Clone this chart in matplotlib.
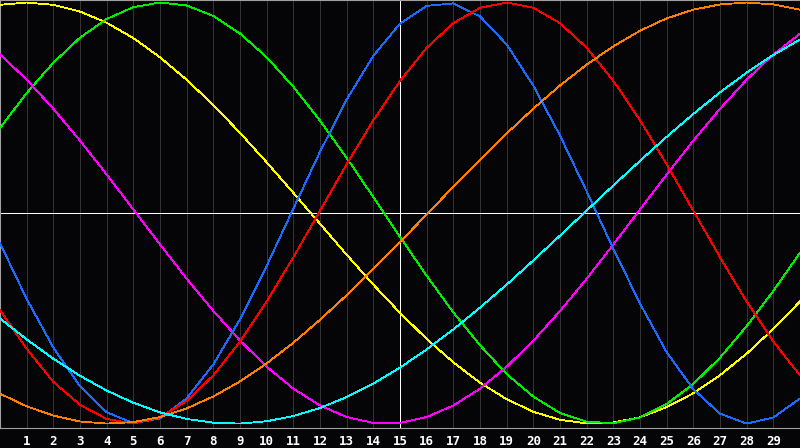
import numpy as np
import matplotlib
matplotlib.use("Agg")
import matplotlib.pyplot as plt

# x positions 0..30
x_vals = list(range(31))

yellow = [0.989, 1.0, 0.989, 0.957, 0.904, 0.831, 0.740, 0.633, 0.513, 0.381, 0.241,
          0.096, -0.051, -0.198, -0.340, -0.474, -0.598, -0.709, -0.806, -0.884, -0.944,
          -0.982, -0.999, -0.995, -0.970, -0.922, -0.856, -0.770, -0.668, -0.550, -0.420]
green = [0.404, 0.570, 0.714, 0.833, 0.922, 0.978, 1.000, 0.986, 0.936, 0.853, 0.740,
         0.600, 0.439, 0.262, 0.076, -0.113, -0.298, -0.472, -0.628, -0.765, -0.872,
         -0.950, -0.991, -0.998, -0.971, -0.907, -0.812, -0.687, -0.537, -0.370, -0.189]
magenta = [0.753, 0.634, 0.495, 0.344, 0.183, 0.017, -0.149, -0.312, -0.465, -0.606, -0.730,
           -0.834, -0.914, -0.969, -0.997, -0.997, -0.969, -0.914, -0.834, -0.730, -0.606,
           -0.465, -0.312, -0.149, 0.017, 0.183, 0.344, 0.495, 0.634, 0.753, 0.852]
blue = [-0.143, -0.408, -0.639, -0.823, -0.946, -0.998, -0.976, -0.880, -0.719, -0.505, -0.251,
        0.021, 0.291, 0.539, 0.747, 0.900, 0.984, 0.996, 0.934, 0.801, 0.605,
        0.368, 0.103, -0.170, -0.430, -0.661, -0.837, -0.953, -1.000, -0.971, -0.881]
red = [-0.461, -0.645, -0.802, -0.911, -0.978, -1.000, -0.970, -0.893, -0.771, -0.611, -0.421,
       -0.210, 0.011, 0.232, 0.441, 0.628, 0.785, 0.902, 0.975, 1.000, 0.975,
       0.902, 0.785, 0.628, 0.441, 0.232, 0.011, -0.210, -0.421, -0.611, -0.771]
orange = [-0.858, -0.918, -0.962, -0.990, -1.000, -0.993, -0.969, -0.928, -0.871, -0.800, -0.714,
          -0.616, -0.507, -0.390, -0.266, -0.137, -0.007, 0.125, 0.253, 0.378, 0.496,
          0.606, 0.705, 0.792, 0.866, 0.925, 0.966, 0.991, 1.000, 0.991, 0.966]
cyan = [-0.501, -0.600, -0.692, -0.773, -0.843, -0.901, -0.947, -0.978, -0.996, -1.000, -0.989,
        -0.964, -0.926, -0.874, -0.810, -0.734, -0.648, -0.553, -0.449, -0.340, -0.225,
        -0.107, 0.012, 0.131, 0.248, 0.362, 0.471, 0.573, 0.667, 0.751, 0.824]

tick_pos = list(range(1, 30))
tick_labels = [str(t) for t in tick_pos]

series = [
    (yellow, "#ffff00"),
    (green, "#00ee00"),
    (magenta, "#ff00ff"),
    (blue, "#1a6cff"),
    (red, "#ff0000"),
    (orange, "#ff8000"),
    (cyan, "#00ffff"),
]

fig = plt.figure(figsize=(8, 4.48), dpi=100, facecolor="#050508")
ax = fig.add_axes([0.0, 20 / 448, 1.0, 428 / 448])
ax.set_facecolor("#050508")

for t in tick_pos:
    ax.axvline(t, color="#343434", lw=0.6, antialiased=False, zorder=1)
ax.axhline(0, color="white", lw=0.7, antialiased=False, zorder=2)
ax.axvline(15, color="white", lw=0.7, antialiased=False, zorder=2)

for vals, col in series:
    ax.plot(x_vals, vals, color=col, lw=0.6, antialiased=False, zorder=3)

ax.set_xlim(0, 30)
ax.set_ylim(-1.021, 1.012)
ax.set_yticks([])
ax.set_xticks(tick_pos)
ax.set_xticklabels(tick_labels, color="white", fontsize=9, fontweight="bold",
                   family="DejaVu Sans Mono")
ax.tick_params(axis="x", length=0, pad=5)

for side in ["left", "bottom", "top"]:
    ax.spines[side].set_color("#a0a0a0")
    ax.spines[side].set_linewidth(0.8)
ax.spines["right"].set_visible(False)

fig.savefig("out.png", dpi=100, facecolor=fig.get_facecolor())
